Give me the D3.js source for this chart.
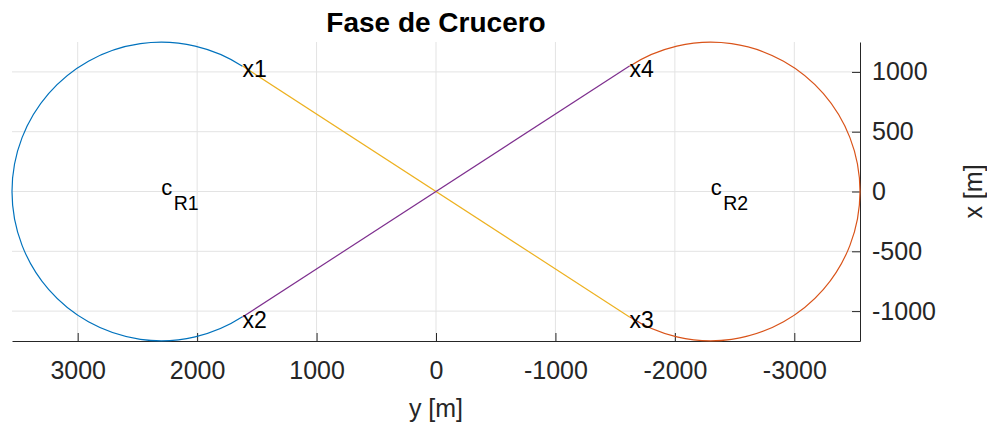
<!DOCTYPE html>
<html lang="es">
<head>
  <meta charset="UTF-8">
  <title>Fase de Crucero</title>
  <script src="https://d3js.org/d3.v7.min.js"></script>
  <style>
    body {
      margin: 0;
      background: #fff;
      font-family: "Liberation Sans", Arial, Helvetica, sans-serif;
    }
    .grid line {
      stroke: #e3e3e3;
      stroke-width: 1;
    }
    .axis path, .axis line {
      stroke: #262626;
      stroke-width: 1;
    }
    .axis text {
      fill: #262626;
      font-size: 25px;
      font-family: "Liberation Sans", Arial, sans-serif;
    }
  </style>
</head>
<body>
  <svg id="chart" width="987" height="428"></svg>
  <script>
    // horizontal axis is "y [m]" (reversed), vertical axis is "x [m]"
    const yTicks = [3000, 2000, 1000, 0, -1000, -2000, -3000];
    const xTicks = [-1000, -500, 0, 500, 1000];
    const yLimits = [3550, -3550];
    const xLimits = [-1250, 1250];

    const centers = [
      { name: "R1", y: 2300, x: 0 },
      { name: "R2", y: -2300, x: 0 }
    ];
    const radius = 1250;

    const points = [
      { name: "x1", y: 1620, x: 1049 },
      { name: "x2", y: 1620, x: -1049 },
      { name: "x3", y: -1620, x: -1049 },
      { name: "x4", y: -1620, x: 1049 }
    ];

    const arcs = [
      { center: "R1", from: "x1", to: "x2" },
      { center: "R2", from: "x4", to: "x3" }
    ];
    const segments = [
      { from: "x1", to: "x3" },
      { from: "x2", to: "x4" }
    ];

    const colors = ["#0072BD", "#D95319", "#EDB120", "#7E2F8E"];

    const margin = { top: 42, right: 127, bottom: 87, left: 12 };
    const width = 987 - margin.left - margin.right,
          height = 428 - margin.top - margin.bottom;

    const svg = d3.select("#chart")
      .append("g")
      .attr("transform", `translate(${margin.left},${margin.top})`);

    const xScale = d3.scaleLinear().domain(yLimits).range([0, width]);
    const yScale = d3.scaleLinear().domain(xLimits).range([height, 0]);

    const pt = name => points.find(p => p.name === name);
    const ctr = name => centers.find(c => c.name === name);

    // grid
    svg.append("g").attr("class", "grid")
      .selectAll("line.v").data(yTicks).enter().append("line")
      .attr("x1", d => xScale(d)).attr("x2", d => xScale(d))
      .attr("y1", 0).attr("y2", height);
    svg.append("g").attr("class", "grid")
      .selectAll("line.h").data(xTicks).enter().append("line")
      .attr("x1", 0).attr("x2", width)
      .attr("y1", d => yScale(d)).attr("y2", d => yScale(d));

    // axes (ticks pointing inward)
    const fmt = d => String(d);
    svg.append("g").attr("class", "axis")
      .attr("transform", `translate(0,${height})`)
      .call(d3.axisBottom(xScale).tickValues(yTicks).tickFormat(fmt)
        .tickSizeInner(-8).tickSizeOuter(0).tickPadding(20));
    svg.append("g").attr("class", "axis")
      .attr("transform", `translate(${width},0)`)
      .call(d3.axisRight(yScale).tickValues(xTicks).tickFormat(fmt)
        .tickSizeInner(-8).tickSizeOuter(0).tickPadding(12));

    // arcs around the two turn circles
    arcs.forEach((a, i) => {
      const c = ctr(a.center), p0 = pt(a.from), p1 = pt(a.to);
      const cx = xScale(c.y), cy = yScale(c.x);
      const r = Math.abs(xScale(c.y + radius) - cx);
      const a0 = Math.atan2(yScale(p0.x) - cy, xScale(p0.y) - cx);
      const a1 = Math.atan2(yScale(p1.x) - cy, xScale(p1.y) - cx);
      let sweep = a1 - a0;
      while (sweep < 0) sweep += 2 * Math.PI;
      const path = d3.path();
      path.arc(cx, cy, r, a0, a1, sweep < Math.PI);
      svg.append("path")
        .attr("d", path.toString())
        .attr("fill", "none")
        .attr("stroke", colors[i])
        .attr("stroke-width", 1.2);
    });

    // straight legs
    const line = d3.line().x(d => xScale(d.y)).y(d => yScale(d.x));
    segments.forEach((s, i) => {
      svg.append("path")
        .attr("d", line([pt(s.from), pt(s.to)]))
        .attr("fill", "none")
        .attr("stroke", colors[i + 2])
        .attr("stroke-width", 1.2);
    });

    // point labels
    svg.selectAll(".plabel").data(points).enter().append("text")
      .attr("class", "plabel")
      .attr("x", d => xScale(d.y))
      .attr("y", d => yScale(d.x) + 11)
      .attr("font-size", "23px")
      .attr("fill", "#000")
      .text(d => d.name);

    // center labels c_R1, c_R2
    centers.forEach(c => {
      const t = svg.append("text")
        .attr("x", xScale(c.y))
        .attr("y", yScale(c.x) + 3.5)
        .attr("font-size", "22px")
        .attr("fill", "#000");
      t.append("tspan").text("c");
      t.append("tspan")
        .attr("dx", 1.5)
        .attr("dy", 15)
        .attr("font-size", "19.5px")
        .text(c.name);
    });

    // title and axis labels
    svg.append("text")
      .attr("x", width / 2).attr("y", 32 - margin.top)
      .attr("text-anchor", "middle")
      .attr("font-size", "28px").attr("font-weight", "bold")
      .attr("fill", "#000")
      .text("Fase de Crucero");

    svg.append("text")
      .attr("x", xScale(0)).attr("y", 417 - margin.top)
      .attr("text-anchor", "middle")
      .attr("font-size", "25px").attr("fill", "#262626")
      .text("y [m]");

    svg.append("text")
      .attr("transform", `translate(${982 - margin.left},${yScale(0)}) rotate(-90)`)
      .attr("text-anchor", "middle")
      .attr("font-size", "25px").attr("fill", "#262626")
      .text("x [m]");
  </script>
</body>
</html>
